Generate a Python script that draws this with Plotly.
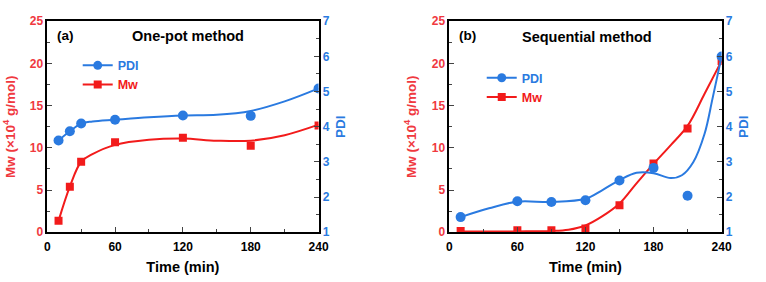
import plotly.graph_objects as go

# ---------------- data ----------------
# Panel (a) One-pot method
t_a = [10, 20, 30, 60, 120, 180, 240]
mw_a = [1.35, 5.4, 8.35, 10.65, 11.2, 10.25, 12.65]
pdi_a = [3.61, 3.87, 4.09, 4.2, 4.32, 4.31, 5.09]
# smoothed fit curves
fit_t_a = [10, 20, 30, 40, 60, 90, 120, 150, 180, 210, 240]
fit_mw_a = [1.35, 5.4, 8.35, 9.25, 10.35, 10.95, 11.1, 10.85, 10.85, 11.5, 12.75]
fit_pdi_a = [3.61, 3.87, 4.09, 4.15, 4.2, 4.27, 4.32, 4.34, 4.45, 4.72, 5.09]

# Panel (b) Sequential method
t_b = [10, 60, 90, 120, 150, 180, 210, 240]
mw_b = [0.15, 0.25, 0.25, 0.45, 3.2, 8.15, 12.3, 20.3]
pdi_b = [1.43, 1.88, 1.86, 1.91, 2.47, 2.83, 2.04, 6.0]
fit_t_b = [10, 60, 90, 105, 120, 135, 150, 165, 180, 195, 210, 225, 240]
fit_mw_b = [0.1, 0.1, 0.15, 0.3, 0.8, 1.9, 3.4, 5.8, 8.1, 10.3, 12.6, 16.4, 20.3]
fit_t_b2 = [10, 35, 60, 90, 120, 135, 150, 165, 180, 195, 205, 215, 225, 232, 240]
fit_pdi_b = [1.43, 1.68, 1.87, 1.86, 1.95, 2.2, 2.48, 2.69, 2.68, 2.54, 2.62, 2.99, 3.8, 4.8, 6.0]

x_ticks = [0, 60, 120, 180, 240]

RED = "#f21b1b"
RED_TXT = "#f0393f"
BLUE = "#2a7ae0"
FONT = "Liberation Sans"

W, H = 766, 282
def px_x(p):
    return p / W
def px_y(p):
    return 1 - p / H

fig = go.Figure()

def add_panel(xa, ya_l, ya_r, t, mw, pdi, ft_mw, fmw, ft_pdi, fpdi, legend):
    fig.add_trace(go.Scatter(x=ft_mw, y=fmw, mode="lines", line=dict(color=RED, width=2, shape="spline"),
                             xaxis=xa, yaxis=ya_l, showlegend=False, hoverinfo="skip"))
    fig.add_trace(go.Scatter(x=ft_pdi, y=fpdi, mode="lines", line=dict(color=BLUE, width=2, shape="spline"),
                             xaxis=xa, yaxis=ya_r, showlegend=False, hoverinfo="skip"))
    fig.add_trace(go.Scatter(x=t, y=mw, mode="markers", marker=dict(color=RED, symbol="square", size=8),
                             xaxis=xa, yaxis=ya_l, showlegend=False))
    fig.add_trace(go.Scatter(x=t, y=pdi, mode="markers", marker=dict(color=BLUE, symbol="circle", size=10),
                             xaxis=xa, yaxis=ya_r, showlegend=False))
    # legend entries
    fig.add_trace(go.Scatter(x=[None], y=[None], mode="lines+markers",
                             name="<span style='color:%s'>PDI</span>" % BLUE,
                             line=dict(color=BLUE, width=2), marker=dict(color=BLUE, size=9),
                             xaxis=xa, yaxis=ya_r, legend=legend))
    fig.add_trace(go.Scatter(x=[None], y=[None], mode="lines+markers",
                             name="<span style='color:%s'>Mw</span>" % RED,
                             line=dict(color=RED, width=2), marker=dict(color=RED, size=8, symbol="square"),
                             xaxis=xa, yaxis=ya_l, legend=legend))

add_panel("x", "y", "y2", t_a, mw_a, pdi_a, fit_t_a, fit_mw_a, fit_t_a, fit_pdi_a, "legend")
add_panel("x2", "y3", "y4", t_b, mw_b, pdi_b, fit_t_b, fit_mw_b, fit_t_b2, fit_pdi_b, "legend2")

ydom = [px_y(237), px_y(15)]
tickfont_black = dict(family=FONT, size=12, color="black", weight="bold")
tickfont_red = dict(family=FONT, size=12, color=RED_TXT, weight="bold")
tickfont_blue = dict(family=FONT, size=12, color=BLUE, weight="bold")

def xaxis(dom):
    return dict(domain=dom, range=[0, 240], tickvals=x_ticks, ticks="inside", ticklen=5, tickwidth=1,
                minor=dict(ticks="inside", dtick=30, tick0=0, ticklen=3, tickwidth=1),
                showline=True, linecolor="black", linewidth=1.5, mirror=True, showgrid=False,
                zeroline=False, tickfont=tickfont_black, ticklabelstandoff=3,
                title=dict(text="<b>Time (min)</b>", font=dict(family=FONT, size=14.5, color="black"), standoff=8))

def yleft(anchor):
    return dict(domain=ydom, range=[0, 25], dtick=5, ticks="inside", ticklen=5, tickwidth=1,
                minor=dict(ticks="inside", dtick=2.5, ticklen=3, tickwidth=1),
                showline=True, linecolor="black", linewidth=1.5, showgrid=False, zeroline=False,
                anchor=anchor, tickfont=tickfont_red,
                title=dict(text="<b>Mw (×10<sup>4</sup> g/mol)</b>", font=dict(family=FONT, size=13.5, color=RED_TXT), standoff=12))

def yright(anchor, over):
    return dict(domain=ydom, range=[1, 7], dtick=1, ticks="inside", ticklen=5, tickwidth=1,
                minor=dict(ticks="inside", dtick=0.5, ticklen=3, tickwidth=1),
                showline=True, linecolor="black", linewidth=1.5, showgrid=False, zeroline=False,
                anchor=anchor, overlaying=over, side="right", tickfont=tickfont_blue,
                title=dict(text="<b>PDI</b>", font=dict(family=FONT, size=13.5, color=BLUE), standoff=7))

leg_common = dict(bgcolor="rgba(0,0,0,0)", borderwidth=0, font=dict(family=FONT, size=12.5, weight="bold"),
                  xanchor="left", yanchor="top", itemwidth=30, tracegroupgap=0)

fig.update_layout(
    width=W, height=H, margin=dict(l=0, r=0, t=0, b=0),
    paper_bgcolor="white", plot_bgcolor="white",
    xaxis=xaxis([px_x(45), px_x(321)]),
    xaxis2=xaxis([px_x(454), px_x(731)]) | dict(anchor="y3"),
    yaxis=yleft("x"), yaxis2=yright("x", "y"),
    yaxis3=yleft("x2"), yaxis4=yright("x2", "y3"),
    legend=dict(x=px_x(76), y=px_y(46), **leg_common),
    legend2=dict(x=px_x(487), y=px_y(59), **leg_common),
    annotations=[
        dict(text="<b>(a)</b>", x=px_x(53), y=px_y(30), xref="paper", yref="paper", xanchor="left", yanchor="middle",
             showarrow=False, font=dict(family=FONT, size=13.5, color="black")),
        dict(text="<b>One-pot method</b>", x=px_x(188), y=px_y(30), xref="paper", yref="paper", xanchor="center",
             yanchor="middle", showarrow=False, font=dict(family=FONT, size=14.5, color="black")),
        dict(text="<b>(b)</b>", x=px_x(462), y=px_y(30), xref="paper", yref="paper", xanchor="left", yanchor="middle",
             showarrow=False, font=dict(family=FONT, size=13.5, color="black")),
        dict(text="<b>Sequential method</b>", x=px_x(594), y=px_y(32), xref="paper", yref="paper", xanchor="center",
             yanchor="middle", showarrow=False, font=dict(family=FONT, size=14.5, color="black")),
    ],
)
fig.write_html("out.html")
